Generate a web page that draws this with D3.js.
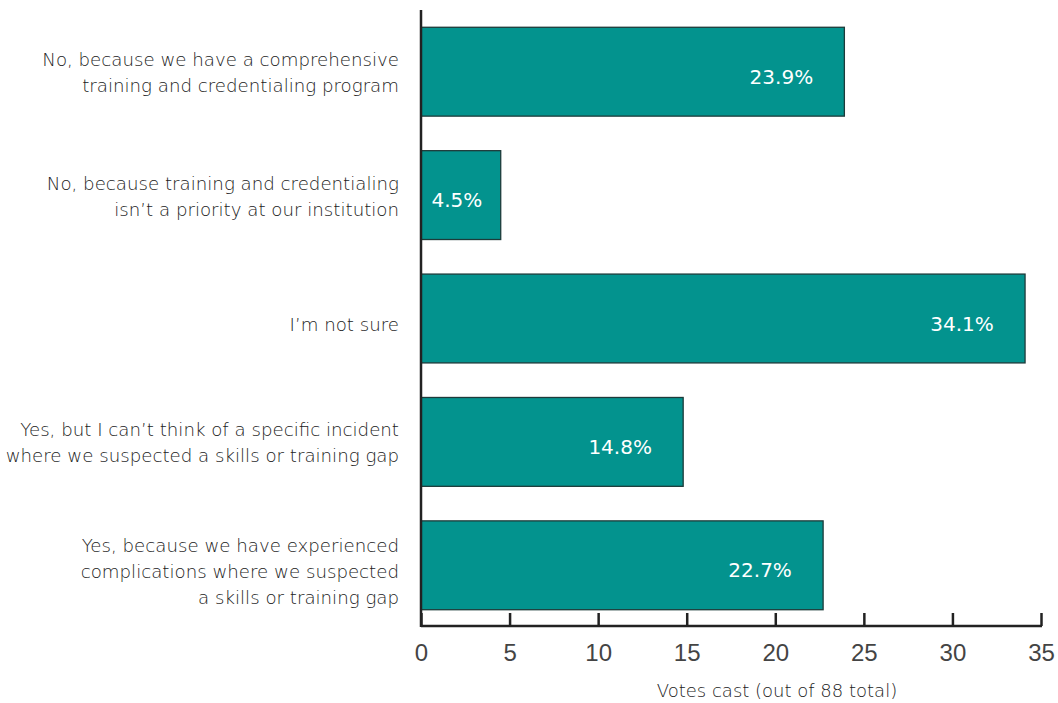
<!DOCTYPE html>
<html><head><meta charset="utf-8">
<script src="https://cdn.jsdelivr.net/npm/d3@7"></script>
<style>body{margin:0;background:#fff}</style>
</head><body>
<svg id="chart" width="1058" height="703"></svg>
<script>
const categories = [
  ["No, because we have a comprehensive", "training and credentialing program"],
  ["No, because training and credentialing", "isn\u2019t a priority at our institution"],
  ["I\u2019m not sure"],
  ["Yes, but I can\u2019t think of a specific incident", "where we suspected a skills or training gap"],
  ["Yes, because we have experienced", "complications where we suspected", "a skills or training gap"]
];
const values = [23.9, 4.5, 34.1, 14.8, 22.7];
const valueLabels = ["23.9%", "4.5%", "34.1%", "14.8%", "22.7%"];
const ticks = [0, 5, 10, 15, 20, 25, 30, 35];
const axisTitle = "Votes cast (out of 88 total)";

const svg = d3.select("#chart");
const font = "'DejaVu Sans', sans-serif";
const x = d3.scaleLinear().domain([0, 35]).range([421, 1041]);
const y = d3.scaleBand().domain(d3.range(values.length)).range([10, 627]).paddingInner(0.28).paddingOuter(0.14);

// bars
svg.selectAll("rect.bar").data(values).join("rect")
  .attr("class", "bar")
  .attr("x", x(0)).attr("y", (d, i) => y(i))
  .attr("width", d => x(d) - x(0)).attr("height", y.bandwidth())
  .attr("fill", "#03938e").attr("stroke", "#1d3b3a").attr("stroke-width", 1.3);

// value labels
svg.selectAll("text.val").data(values).join("text")
  .attr("class", "val")
  .attr("x", d => Math.max((x(d) + x(0)) / 2 - 4, x(d) - 63))
  .attr("y", (d, i) => y(i) + y.bandwidth() / 2 + 12)
  .attr("text-anchor", "middle").attr("fill", "#fff")
  .attr("font-family", font).attr("font-size", 20)
  .text((d, i) => valueLabels[i]);

// category labels
const cat = svg.selectAll("text.cat").data(categories).join("text")
  .attr("class", "cat")
  .attr("text-anchor", "end")
  .attr("font-family", font).attr("font-size", 18.2).attr("fill", "#222")
  .attr("font-weight", 300);
cat.each(function(lines, i) {
  const lh = 26;
  const mid = y(i) + y.bandwidth() / 2 + (lines.length === 2 ? 7.5 : 12.5);
  const y0 = mid - (lines.length - 1) * lh / 2;
  d3.select(this).selectAll("tspan").data(lines).join("tspan")
    .attr("x", 399).attr("y", (d, k) => y0 + k * lh).text(d => d);
});

// x axis
const axis = svg.append("g").attr("transform", "translate(0,626)")
  .call(d3.axisBottom(x).tickValues(ticks).tickSize(0).tickPadding(0).tickFormat(d3.format("d")));
axis.select(".domain").remove();
axis.selectAll(".tick line").remove();
axis.selectAll(".tick").append("line").attr("y1", 0).attr("y2", -13).attr("stroke", "#222").attr("stroke-width", 2.5);
axis.selectAll(".tick text").attr("y", 35).attr("dy", null).attr("font-family", "'Liberation Sans Narrow', 'Liberation Sans', sans-serif")
  .attr("font-size", 24).attr("fill", "#444").attr("font-weight", 300);
axis.append("line").attr("x1", x(0)).attr("x2", x(35) + 1).attr("stroke", "#222").attr("stroke-width", 2.5);

// y axis line
svg.append("line").attr("x1", x(0)).attr("x2", x(0)).attr("y1", 10).attr("y2", 627)
  .attr("stroke", "#222").attr("stroke-width", 2.5);

// axis title
svg.append("text").attr("x", 777).attr("y", 697).attr("text-anchor", "middle")
  .attr("font-family", font).attr("font-size", 18).attr("fill", "#222").attr("font-weight", 300)
  .text(axisTitle);
</script>
</body></html>
